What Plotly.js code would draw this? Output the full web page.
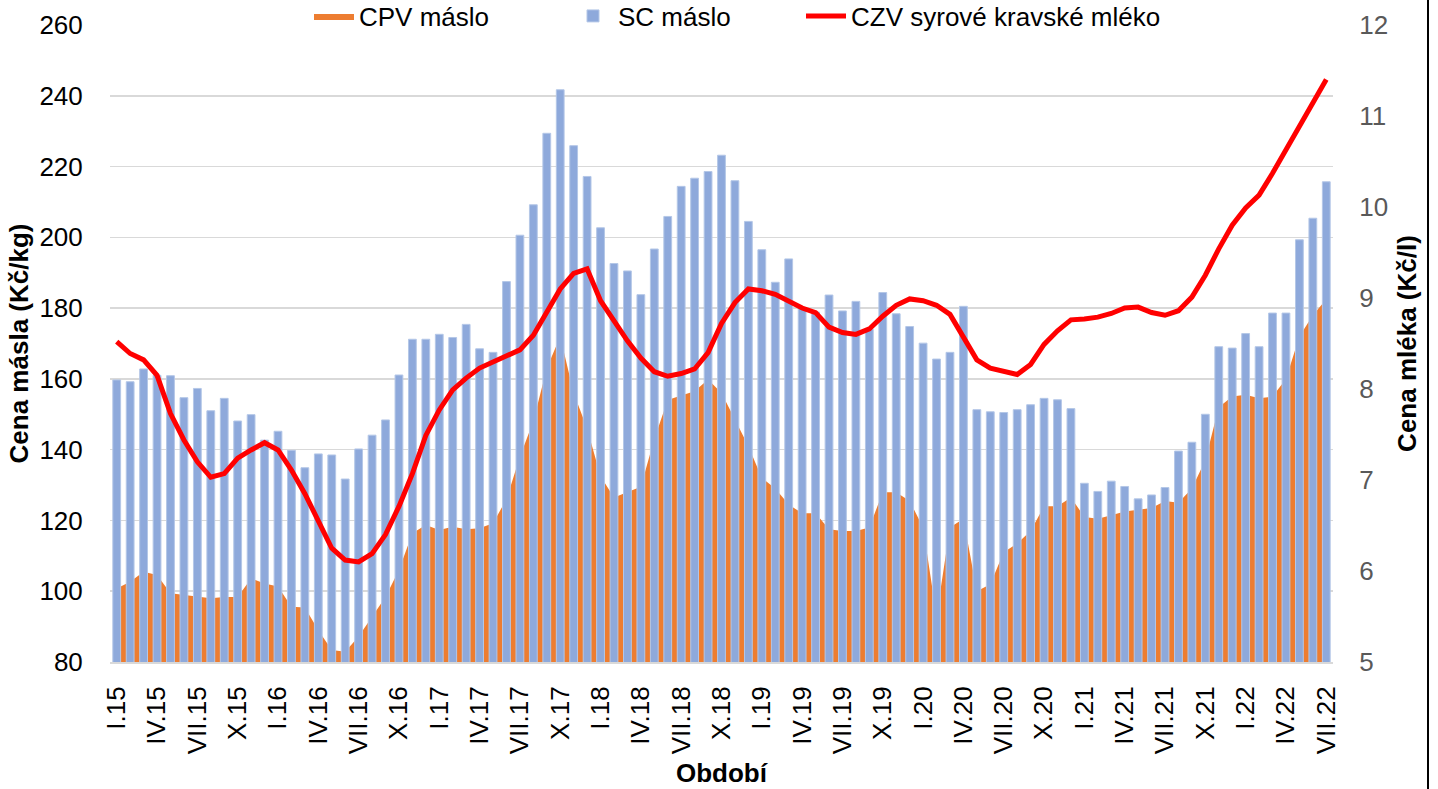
<!DOCTYPE html>
<html>
<head>
<meta charset="utf-8">
<script src="https://cdn.plot.ly/plotly-3.0.1.min.js"></script>
<style>
html,body{margin:0;padding:0;background:#fff;}
#chart{width:1438px;height:789px;}
</style>
</head>
<body>
<div id="chart"></div>
<script>
// Months I.15 .. VII.22
const romans = ["I","II","III","IV","V","VI","VII","VIII","IX","X","XI","XII"];
const months = [];
for (let y = 15; y <= 22; y++) {
  for (let m = 0; m < 12; m++) {
    if (y === 22 && m > 6) break;
    months.push(romans[m] + "." + y);
  }
}
const tickLabels = months.filter((_, i) => i % 3 === 0);

// CPV máslo (Kč/kg) – area
const cpvMaslo = [
  100.8,102.7,105.5,104.6,99.4,98.9,98.3,98.0,98.4,98.4,103.6,102.2,
  101.3,95.6,95.4,89.0,83.4,82.9,87.2,92.8,98.4,106.0,116.4,118.7,
  117.3,118.2,117.5,117.8,119.2,126.0,138.0,148.0,163.0,172.0,156.0,146.0,
  132.5,126.5,128.0,129.5,143.0,154.0,155.3,156.5,159.8,156.0,148.5,141.0,
  132.0,129.0,124.5,122.0,122.0,117.5,117.0,117.0,118.0,128.0,128.0,125.5,
  118.0,93.0,118.0,120.5,100.0,102.0,111.0,113.5,117.0,124.0,124.0,126.5,
  121.0,120.5,121.5,122.5,123.0,123.5,125.5,125.0,129.0,137.0,152.0,155.0,
  155.5,154.5,155.0,160.0,172.0,178.0,182.5
];

// SC máslo (Kč/kg) – columns
const scMaslo = [
  159.7,159.2,162.8,161.0,160.9,154.7,157.3,151.0,154.5,148.1,149.9,142.7,
  145.2,139.8,134.9,138.8,138.5,131.7,140.2,144.1,148.4,161.1,171.2,171.2,
  172.6,171.7,175.4,168.5,167.5,187.5,200.6,209.2,229.4,241.7,225.9,217.2,
  202.7,192.6,190.5,183.8,196.7,205.9,214.4,216.7,218.6,223.2,216.0,204.5,
  196.5,187.3,193.9,180.0,178.9,183.7,179.2,181.9,174.0,184.4,178.4,174.8,
  170.1,165.6,167.5,180.5,151.3,150.7,150.5,151.3,152.7,154.5,154.1,151.6,
  130.5,128.2,131.1,129.6,126.1,127.2,129.3,139.6,142.1,150.0,169.1,168.7,
  172.8,169.1,178.6,178.6,199.3,205.4,215.7
];

// CZV syrové kravské mléko (Kč/l) – line
const czvMleko = [
  8.52,8.39,8.32,8.15,7.73,7.44,7.20,7.03,7.07,7.24,7.33,7.41,
  7.33,7.11,6.85,6.56,6.25,6.12,6.10,6.19,6.40,6.71,7.07,7.49,
  7.77,7.99,8.12,8.23,8.30,8.36,8.43,8.59,8.85,9.10,9.27,9.32,
  8.97,8.74,8.53,8.34,8.19,8.14,8.17,8.22,8.40,8.72,8.95,9.10,
  9.08,9.04,8.97,8.89,8.84,8.68,8.62,8.60,8.66,8.80,8.92,8.99,
  8.97,8.92,8.82,8.56,8.32,8.23,8.19,8.16,8.27,8.49,8.64,8.76,
  8.77,8.79,8.83,8.89,8.90,8.84,8.81,8.86,9.01,9.25,9.54,9.80,
  9.99,10.13,10.37,10.63,10.87,11.13,11.40
];

const FONT = "Liberation Sans, Arial, sans-serif";
const FS = 26;

const traces = [
  {
    type: "scatter", mode: "lines", name: "CPV máslo",
    x: months, y: cpvMaslo, xaxis: "x", yaxis: "y",
    fill: "tozeroy", fillcolor: "#ED7D31",
    line: {width: 0, color: "#ED7D31"},
    legend: "legend"
  },
  {
    type: "bar", name: "SC máslo",
    x: months, y: scMaslo, xaxis: "x", yaxis: "y2",
    marker: {color: "#8EA9DB", line: {color: "#B4C7E7", width: 1}},
    legend: "legend2"
  },
  {
    type: "scatter", mode: "lines", name: "CZV syrové kravské mléko",
    x: months, y: czvMleko, xaxis: "x", yaxis: "y3",
    line: {color: "#FF0000", width: 5},
    legend: "legend3"
  }
];

const plotL = 110, plotR = 1333, plotT = 25, plotB = 662;
const W = 1438, H = 789;
const px = v => (v - plotL) / (plotR - plotL);
const py = v => (plotB - v) / (plotB - plotT);

const legendCommon = {
  orientation: "h", xref: "container", yref: "container",
  yanchor: "middle", xanchor: "left",
  bgcolor: "rgba(255,255,255,0)",
  font: {family: FONT, size: FS, color: "#000"},
  itemwidth: 40
};

const layout = {
  width: W, height: H,
  paper_bgcolor: "#fff", plot_bgcolor: "#fff",
  margin: {l: plotL, r: W - plotR, t: plotT, b: H - plotB, pad: 0, autoexpand: false},
  font: {family: FONT, size: FS, color: "#000"},
  bargap: 0.42,
  xaxis: {
    type: "category", categoryorder: "array", categoryarray: months,
    tickvals: tickLabels, ticktext: tickLabels,
    tickangle: -90, tickfont: {family: FONT, size: FS, color: "#000"},
    showgrid: false, showline: true, linecolor: "#D9D9D9", linewidth: 2,
    ticks: "outside", ticklen: 12, tickcolor: "rgba(0,0,0,0)",
    range: [-0.5, months.length - 0.5], automargin: false,
    title: {text: "<b>Období</b>", font: {family: FONT, size: FS, color: "#000"}, standoff: 10}
  },
  yaxis: {
    range: [80, 260], dtick: 20, tick0: 80,
    showgrid: true, gridcolor: "#D9D9D9", gridwidth: 1.5,
    zeroline: false, showline: false,
    ticks: "outside", ticklen: 21, tickcolor: "rgba(0,0,0,0)",
    tickfont: {family: FONT, size: FS, color: "#000"}, automargin: false,
    title: {text: "<b>Cena másla (Kč/kg)</b>", font: {family: FONT, size: FS, color: "#000"}, standoff: 3}
  },
  yaxis2: {
    overlaying: "y", range: [80, 260], visible: false,
    showgrid: false, zeroline: false
  },
  yaxis3: {
    overlaying: "y", side: "right", range: [5, 12], dtick: 1, tick0: 5,
    showgrid: false, zeroline: false, showline: false,
    ticks: "outside", ticklen: 20, tickcolor: "rgba(0,0,0,0)",
    tickfont: {family: FONT, size: FS, color: "#595959"}, automargin: false,
    title: {text: "<b>Cena mléka (Kč/l)</b>", font: {family: FONT, size: FS, color: "#000"}, standoff: 10}
  },
  legend: Object.assign({}, legendCommon, {x: 309 / W, y: 1 - 16 / H}),
  legend2: Object.assign({}, legendCommon, {x: 568 / W, y: 1 - 16 / H}),
  legend3: Object.assign({}, legendCommon, {x: 801 / W, y: 1 - 16 / H}),
  showlegend: true,
  shapes: [
    {type: "line", xref: "paper", yref: "paper",
     x0: px(1428), x1: px(1428), y0: py(0), y1: py(H),
     line: {color: "#000", width: 2}}
  ]
};

Plotly.newPlot("chart", traces, layout, {displayModeBar: false, staticPlot: true});
</script>
</body>
</html>
